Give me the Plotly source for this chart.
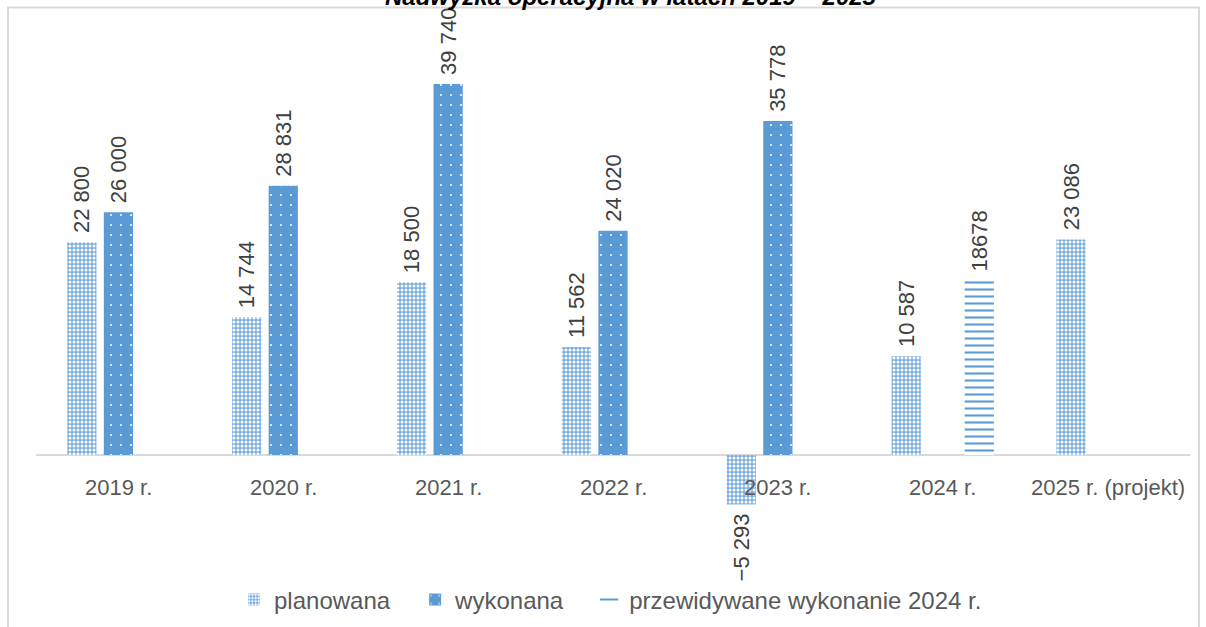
import plotly.graph_objects as go

categories = ["2019 r.", "2020 r.", "2021 r.", "2022 r.", "2023 r.", "2024 r.", "2025 r. (projekt)"]
planowana = [22800, 14744, 18500, 11562, -5293, 10587, 23086]
wykonana = [26000, 28831, 39740, 24020, 35778, None, None]
przewidywane = [None, None, None, None, None, 18678, None]

series_names = ["planowana", "wykonana", "przewidywane wykonanie 2024 r."]
title_text = "Nadwyżka operacyjna w latach 2019 – 2025"

NBSP = "\u00a0"


def fmt(v):
    if v is None:
        return ""
    s = f"{abs(v):,}".replace(",", " ")
    if v < 0:
        return "\u2212" + s + NBSP
    return NBSP + s


def fmt_plain(v):
    return "" if v is None else NBSP + str(v)


LABEL_FONT = dict(family="Liberation Sans, Arial, sans-serif", size=22, color="#404040")
BLUE = "#5b9bd5"
PAD = NBSP * 3  # extra spacing between legend entries

fig = go.Figure()

fig.add_trace(go.Bar(
    name=series_names[0] + PAD, x=categories, y=planowana,
    text=[fmt(v) for v in planowana], textposition="outside", textangle=-90,
    textfont=LABEL_FONT, cliponaxis=False, constraintext="none",
    marker=dict(color="#79addf", line=dict(width=0),
                pattern=dict(shape=".", bgcolor="#79addf", fgcolor="#ffffff",
                             size=4, solidity=0.45, fillmode="replace")),
))
fig.add_trace(go.Bar(
    name=series_names[1] + PAD, x=categories, y=wykonana,
    text=[fmt(v) for v in wykonana], textposition="outside", textangle=-90,
    textfont=LABEL_FONT, cliponaxis=False, constraintext="none",
    marker=dict(color=BLUE, line=dict(width=0),
                pattern=dict(shape=".", bgcolor=BLUE, fgcolor="#ffffff",
                             size=10, solidity=0.03, fillmode="replace")),
))
fig.add_trace(go.Bar(
    name=series_names[2], x=categories, y=przewidywane,
    text=[fmt_plain(v) for v in przewidywane], textposition="outside", textangle=-90,
    textfont=LABEL_FONT, cliponaxis=False, constraintext="none", showlegend=False,
    marker=dict(color=BLUE, line=dict(width=0),
                pattern=dict(shape="-", bgcolor="#ffffff", fgcolor=BLUE,
                             size=7, solidity=0.3, fillmode="replace")),
))
# legend entry for the forecast series (short line symbol)
fig.add_trace(go.Scatter(
    name=series_names[2], x=[None], y=[None], mode="markers",
    marker=dict(symbol="line-ew", size=13, line=dict(width=2, color=BLUE), color=BLUE),
    showlegend=True, hoverinfo="skip",
))

annotations = []
for c in categories:
    annotations.append(dict(
        x=c, y=0, xref="x", yref="y", text=c, showarrow=False,
        yshift=-32, yanchor="middle",
        font=dict(family="Liberation Sans, Arial, sans-serif", size=22, color="#595959"),
    ))
annotations.append(dict(
    x=0.5 + (631 - 613) / 1154, y=1.0, xref="paper", yref="paper",
    yshift=8, yanchor="bottom", xanchor="center", showarrow=False,
    text="<b><i>" + title_text + "</i></b>",
    font=dict(family="Liberation Sans, Arial, sans-serif", size=24, color="#000000"),
))

fig.update_layout(
    width=1206, height=627,
    margin=dict(l=36, r=16, t=20, b=67, autoexpand=False),
    paper_bgcolor="#ffffff", plot_bgcolor="#ffffff",
    barmode="group", bargap=0.335, bargroupgap=0.2,
    showlegend=True,
    legend=dict(orientation="h", x=(234 - 36) / 1154, xanchor="left", y=-(600 - 560) / 540,
                yanchor="middle", bgcolor="rgba(0,0,0,0)",
                font=dict(family="Liberation Sans, Arial, sans-serif", size=24, color="#595959"),
                traceorder="normal"),
    xaxis=dict(showticklabels=False, showgrid=False, showline=False, ticks="", fixedrange=True),
    yaxis=dict(range=[-11247, 46594], showticklabels=False, showgrid=False,
               zeroline=True, zerolinecolor="#d9d9d9", zerolinewidth=1.5, ticks=""),
    annotations=annotations,
    shapes=[dict(type="rect", xref="paper", yref="paper",
                 x0=(8 - 36) / 1154, x1=(1199 - 36) / 1154,
                 y0=(560 - 660) / 540, y1=(560 - 7.5) / 540,
                 line=dict(color="#d9d9d9", width=2), fillcolor="rgba(0,0,0,0)", layer="below")],
)

fig.write_html("out.html", config={"displayModeBar": False},
               post_script="document.body.style.margin='0';document.body.style.overflow='hidden';")
